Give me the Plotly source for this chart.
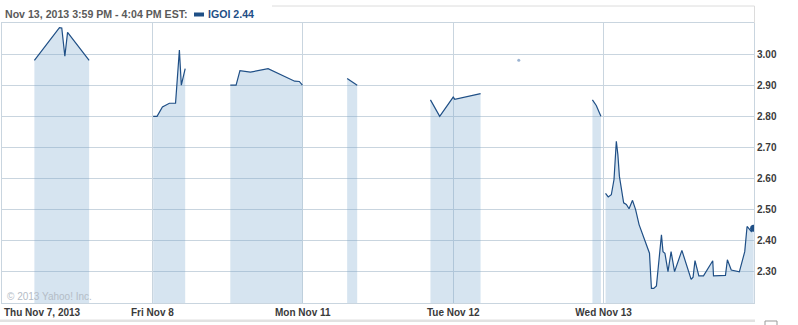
import plotly.graph_objects as go

# Trading days shown on the compressed intraday axis (index = position)
day_labels = ["Thu Nov 7, 2013", "Fri Nov 8", "Mon Nov 11", "Tue Nov 12", "Wed Nov 13"]

# Trade segments: (day index, times, prices)
seg1_day = 0
seg1_times = ["10:54", "11:59", "12:05", "12:13", "12:20", "13:16"]
seg1_prices = [2.98, 3.085, 3.084, 2.993, 3.07, 2.98]

seg2_day = 1
seg2_times = ["09:32", "09:42", "09:56", "10:10", "10:14", "10:30", "10:40", "10:45", "10:55"]
seg2_prices = [2.80, 2.80, 2.83, 2.84, 2.842, 2.842, 3.013, 2.90, 2.953]

seg3_day = 1
seg3_times = ["12:52", "13:07", "13:17", "13:44", "14:30", "15:39", "15:51", "15:59"]
seg3_prices = [2.90, 2.90, 2.947, 2.942, 2.953, 2.913, 2.912, 2.90]

seg4_day = 2
seg4_times = ["11:25", "11:51"]
seg4_prices = [2.922, 2.90]

seg5_days = [2, 2, 3, 3, 3]
seg5_times = ["15:01", "15:25", "09:30", "09:34", "10:41"]
seg5_prices = [2.853, 2.80, 2.862, 2.855, 2.873]

lone_day = 3
lone_time = "12:20"
lone_price = 2.98

seg6_day = 3
seg6_times = ["15:31", "15:41", "15:53"]
seg6_prices = [2.853, 2.835, 2.80]

seg7_day = 4
seg7_times = ["09:35", "09:42", "09:50", "09:57", "10:03", "10:07", "10:11", "10:22", "10:29",
              "10:36", "10:45", "10:53", "11:02", "11:29", "11:34", "11:40", "11:47", "12:00",
              "12:04", "12:09", "12:17", "12:25", "12:34", "12:53", "13:17", "13:22", "13:27",
              "13:37", "13:49", "14:13", "14:15", "14:32", "14:46", "14:51", "15:01", "15:22",
              "15:36", "15:42", "15:53", "15:59"]
seg7_prices = [2.552, 2.541, 2.548, 2.597, 2.72, 2.677, 2.607, 2.522, 2.517,
               2.503, 2.53, 2.50, 2.452, 2.36, 2.247, 2.247, 2.255, 2.419,
               2.365, 2.36, 2.301, 2.365, 2.301, 2.369, 2.276, 2.283, 2.336,
               2.287, 2.287, 2.336, 2.287, 2.287, 2.289, 2.339, 2.306, 2.30,
               2.365, 2.446, 2.43, 2.44]

y_ticks = [2.30, 2.40, 2.50, 2.60, 2.70, 2.80, 2.90, 3.00]

LINE = "#1f4f86"
FILL = "rgba(120,166,206,0.30)"
GRID = "#c9d5df"
TXT = "#3a3a3a"
FAMILY = "Liberation Sans, Arial, sans-serif"


def pos(day, t):
    h, m = t.split(":")
    minutes = int(h) * 60 + int(m) - (9 * 60 + 30)
    return day + minutes / 390.0


segments = [
    ([seg1_day] * len(seg1_times), seg1_times, seg1_prices),
    ([seg2_day] * len(seg2_times), seg2_times, seg2_prices),
    ([seg3_day] * len(seg3_times), seg3_times, seg3_prices),
    ([seg4_day] * len(seg4_times), seg4_times, seg4_prices),
    (seg5_days, seg5_times, seg5_prices),
    ([seg6_day] * len(seg6_times), seg6_times, seg6_prices),
    ([seg7_day] * len(seg7_times), seg7_times, seg7_prices),
]

fig = go.Figure()
for days, times, prices in segments:
    xs = [pos(d, t) for d, t in zip(days, times)]
    fig.add_trace(go.Scatter(x=xs, y=prices, mode="lines", fill="tozeroy",
                             fillcolor=FILL, line=dict(color=LINE, width=1.2),
                             showlegend=False, hoverinfo="skip"))

fig.add_trace(go.Scatter(x=[pos(lone_day, lone_time)], y=[lone_price], mode="markers",
                         marker=dict(color="rgba(90,130,180,0.6)", size=3),
                         showlegend=False, hoverinfo="skip"))

# last price marker
fig.add_trace(go.Scatter(x=[pos(seg7_day, seg7_times[-1])], y=[seg7_prices[-1]], mode="markers",
                         marker=dict(color=LINE, size=7), showlegend=False, hoverinfo="skip"))

W, H = 798, 325
ML, MR, MT, MB = 2, 44, 23, 22
PW, PH = W - ML - MR, H - MT - MB


def px(x):
    return (x - ML) / PW


def py(y):
    return (H - MB - y) / PH


font_bold = dict(family=FAMILY, size=10, color=TXT, weight="bold")

fig.update_layout(
    width=W, height=H,
    margin=dict(l=ML, r=MR, t=MT, b=MB),
    paper_bgcolor="white", plot_bgcolor="white",
    xaxis=dict(range=[0, 5], tickvals=[1, 2, 3, 4], ticktext=day_labels[1:],
               showgrid=True, gridcolor=GRID, gridwidth=1, zeroline=False,
               showline=True, linecolor=GRID, linewidth=1, mirror=True,
               ticks="", tickfont=font_bold, fixedrange=True),
    yaxis=dict(range=[2.20, 3.10], side="right", tickvals=y_ticks, tickformat=".2f",
               showgrid=True, gridcolor=GRID, gridwidth=1, zeroline=False,
               showline=True, linecolor=GRID, linewidth=1, mirror=True,
               ticks="", tickfont=font_bold, fixedrange=True),
    showlegend=False,
)

annotations = [
    dict(text=day_labels[0], x=0, y=0, xref="x", yref="paper", xanchor="left", yanchor="top",
         yshift=-2, xshift=0, showarrow=False, font=font_bold),
    dict(text="Nov 13, 2013 3:59 PM - 4:04 PM EST:", x=px(3), y=py(14), xref="paper", yref="paper",
         xanchor="left", yanchor="middle", showarrow=False,
         font=dict(family=FAMILY, size=10.6, color="#5a5a5a", weight="bold")),
    dict(text="IGOI 2.44", x=px(206), y=py(14), xref="paper", yref="paper",
         xanchor="left", yanchor="middle", showarrow=False,
         font=dict(family=FAMILY, size=10.6, color="#1f4f86", weight="bold")),
    dict(text="© 2013 Yahoo! Inc.", x=px(5), y=py(296), xref="paper", yref="paper",
         xanchor="left", yanchor="middle", showarrow=False,
         font=dict(family=FAMILY, size=10, color="#b4bcc6")),
]
fig.update_layout(annotations=annotations)

shapes = [
    # legend swatch
    dict(type="rect", xref="paper", yref="paper", x0=px(194), x1=px(204), y0=py(16.5), y1=py(12.5),
         fillcolor=LINE, line=dict(width=0)),
    # bottom gray bar
    dict(type="rect", xref="paper", yref="paper", x0=px(0), x1=px(755), y0=py(322), y1=py(319.5),
         fillcolor="#e2e2e2", line=dict(width=0)),
    # top frame line
    dict(type="line", xref="paper", yref="paper", x0=px(272), x1=px(754.5), y0=py(6), y1=py(6),
         line=dict(color="#dcdcdc", width=1)),
    dict(type="line", xref="paper", yref="paper", x0=px(754.5), x1=px(754.5), y0=py(6), y1=py(23),
         line=dict(color="#dcdcdc", width=1)),
    # small control at bottom right
    dict(type="rect", xref="paper", yref="paper", x0=px(765), x1=px(777), y0=py(328), y1=py(321),
         fillcolor="white", line=dict(color="#999999", width=1)),
]
fig.update_layout(shapes=shapes)

fig.write_html("out.html")
